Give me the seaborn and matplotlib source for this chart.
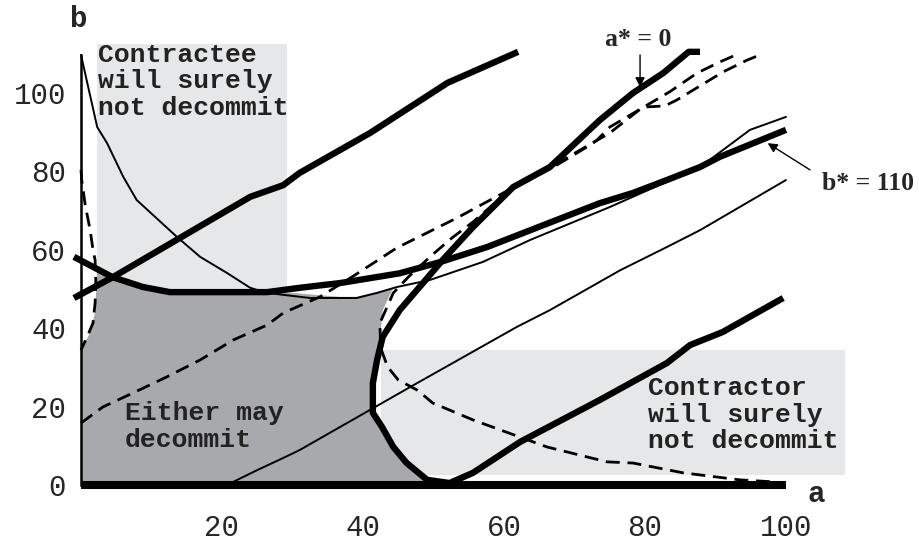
import numpy as np
import matplotlib
matplotlib.use("Agg")
import matplotlib.pyplot as plt
import seaborn as sns

# ------------------------------
# Data (a on x, b on y)
# ------------------------------
a_thick_upper = [-1, 4.5, 24, 28.7, 31, 41, 52, 62]
b_thick_upper = [47.7, 53, 73.5, 76.5, 79.6, 89.8, 102.6, 110.5]

# b* = 110 curve
a_bstar = [-1, 4.5, 8.8, 12.6, 26.4, 31, 36.7, 45.2, 51, 57.6, 73.6, 78.3, 83.1, 87.8, 90.6, 100]
b_bstar = [58.2, 53, 50.5, 49.2, 49.2, 50.3, 51.5, 54, 56.9, 60.7, 71.9, 74.5, 77.8, 81.1, 83.7, 90.6]

a_thin_upper = [0, 2.3, 3.7, 6, 7.9, 13.6, 16.9, 20.7, 24, 26.4, 32.5, 39.1, 42, 44.8, 49.5, 57, 63.7, 75, 87.8, 94.9, 100]
b_thin_upper = [109.7, 91.3, 87.2, 78.6, 72.7, 63.3, 58.2, 54.1, 50.3, 49, 47.7, 47.7, 49, 50.5, 52.3, 56.9, 62.5, 70.9, 81.1, 90.6, 93.9]

a_thin_lower = [21.6, 25, 28.7, 31, 46.7, 61.8, 66.5, 76.5, 83.1, 87.8, 100]
b_thin_lower = [0.8, 3.8, 6.9, 8.9, 25, 40.3, 44.6, 54.8, 60.7, 65, 77.8]

# a* = 0 curve
a_astar = [87.8, 86.2, 82.6, 78.3, 73.6, 66.5, 61.3, 55.6, 51.3, 48.5, 45.2, 42.8, 42, 41.4, 41.4,
           42.7, 44.3, 46.2, 49.1, 52.3, 55.6, 62.3, 73.6, 83.1, 86.4, 91, 99.6]
b_astar = [110.5, 110.5, 105.1, 100, 93.1, 81.1, 76, 65.8, 57.4, 51.5, 44.6, 37.8, 31.9, 26, 18.4,
           14.8, 9.7, 5.6, 1.3, 0.5, 3.1, 11, 21.7, 31.1, 35.7, 39, 47.7]

a_zero = [0, 100]
b_zero = [0, 0]

a_dash_low = [0, 3.1, 7.4, 12.2, 16.9, 21.6, 26.4, 28.7, 33.9, 38.9, 44.8, 53.3, 59.9, 67, 75,
              79.7, 82.8, 84.5, 91.1, 94.5, 96.3]
b_dash_low = [15.8, 19.9, 23.5, 27.6, 31.9, 37, 40.8, 43.9, 48, 53.6, 60.5, 68.1, 74.5, 81.5, 89.8,
              96.4, 96.7, 98.2, 105.4, 108.4, 109.7]

a_dash_c = [92.5, 90.6, 87.4, 83.5, 76.7, 75, 73.2, 72.2, 67, 61, 55.6, 52.6, 49.5, 46.4, 44.3, 42.4,
            42.5, 43.5, 45, 47.7, 49.9, 52.3, 55.6, 66.1, 74.6, 78.3, 85.4, 93.5, 98.2]
b_dash_c = [109.4, 107.9, 105.1, 100.3, 93.1, 91.3, 88, 86.7, 81.1, 75.5, 67.1, 63, 58.2, 53, 49, 41.3,
            35, 30.1, 26.8, 24.2, 20.9, 19.1, 16.6, 9.7, 5.9, 5.6, 3.1, 1.3, 0.8]

a_dash_left = [0, 0.1, 0.6, 1.3, 1.7, 2, 2.1, 2, 1.7, 0.8, 0]
b_dash_left = [80.4, 77.8, 71.4, 65, 60, 57.4, 52, 46.4, 41.3, 37.5, 34.4]

# shaded zones
a_either = [0, 0, 1.2, 2.0, 2.3, 4.5, 8.8, 12.6, 26.4, 30, 36.7, 39.1, 44.3, 42.8, 42.4, 41.4,
            41.2, 41.2, 42.5, 44.1, 46, 48.5, 49]
b_either = [0, 34.4, 38.5, 44, 55, 53, 50.5, 49.2, 49.2, 49, 48, 48, 50.3, 44.6, 37, 30,
            26, 18.4, 14.8, 9.7, 5.6, 1.5, 0]
contractee_a = [2.27, 29.2]
contractee_b = [40, 112.5]
contractor_a = [42.5, 108.4]
contractor_b = [2.55, 34.4]

y_ticks = [0, 20, 40, 60, 80, 100]
x_ticks = [20, 40, 60, 80, 100]

# ------------------------------
# Figure
# ------------------------------
sns.set_style("white")
plt.rcParams['font.family'] = ['Liberation Mono', 'DejaVu Sans']

fig = plt.figure(figsize=(9.19, 5.45), dpi=100)
ax = fig.add_axes([70 / 919, 53 / 545, 780 / 919, 452 / 545])
ax.set_xlim(-1.56, 109.08)
ax.set_ylim(-1.79, 113.52)

LIGHT = '#e6e7e8'
DARK = '#a7a9ac'
ax.fill_between(contractee_a, contractee_b[0], contractee_b[1], color=LIGHT, lw=0, zorder=0)
ax.fill_between(contractor_a, contractor_b[0], contractor_b[1], color=LIGHT, lw=0, zorder=0)
ax.fill(a_either, b_either, color=DARK, lw=0, zorder=1)

thick = dict(color='k', linewidth=4.6, solid_capstyle='butt', solid_joinstyle='round')
thin = dict(color='k', linewidth=1.4, solid_joinstyle='round')
dashed = dict(color='k', linewidth=2.0, linestyle=(0, (5.0, 2.8)))

curves = [
    (a_thin_upper, b_thin_upper, thin),
    (a_thin_lower, b_thin_lower, thin),
    (a_dash_low, b_dash_low, dashed),
    (a_dash_c, b_dash_c, dashed),
    (a_dash_left, b_dash_left, dashed),
    (a_thick_upper, b_thick_upper, thick),
    (a_bstar, b_bstar, thick),
    (a_astar, b_astar, thick),
]
for xs, ys, kw in curves:
    sns.lineplot(x=xs, y=ys, sort=False, estimator=None, ax=ax, zorder=3, **kw)
sns.lineplot(x=a_zero, y=b_zero, sort=False, estimator=None, ax=ax, zorder=3,
             color='k', linewidth=5.8, solid_capstyle='butt')

# axes styling
for s in ['top', 'right']:
    ax.spines[s].set_visible(False)
ax.spines['bottom'].set_position(('data', 0))
ax.spines['bottom'].set_color('none')
ax.spines['left'].set_position(('data', 0))
ax.spines['left'].set_bounds(0, 109.7)
ax.spines['left'].set_linewidth(1.8)
ax.spines['left'].set_color('k')

ax.set_yticks(y_ticks)
ax.set_yticks(np.arange(0, 110, 5), minor=True)
ax.set_xticks(x_ticks)
ax.tick_params(axis='y', which='both', direction='inout', length=4.5, width=1.5,
               color='k', pad=8.5, labelsize=21)
ax.tick_params(axis='x', length=0, pad=21, labelsize=21)
ax.grid(False)

# multi-line labels: anchored on the baseline of their last line
lbl = dict(fontsize=19, fontweight='bold', va='baseline', ha='left', linespacing=1.13,
           color='#222222', zorder=5)
ax.text(2.4, 94.4, "Contractee\nwill surely\nnot decommit", **lbl)
ax.text(6.2, 9.7, "Either may\ndecommit", **lbl)
ax.text(80.4, 9.4, "Contractor\nwill surely\nnot decommit", **lbl)

ax.text(-1.56, 116.8, "b", fontsize=21, fontweight='bold', va='baseline', ha='left')
ax.text(103, -4.3, "a", fontsize=21, fontweight='bold', va='baseline', ha='left')

serif = dict(family='Liberation Serif', fontsize=18.5, fontweight='bold', va='baseline')
ax.text(79.1, 112, "a* = 0", ha='center', **serif)
ax.text(105.1, 75.3, "b* = 110", ha='left', **serif)
arrow = dict(arrowstyle='-|>', color='k', lw=1, mutation_scale=14, shrinkA=0, shrinkB=0)
ax.annotate('', xy=(79.3, 101.5), xytext=(79.3, 109.7), arrowprops=arrow)
ax.annotate('', xy=(97.4, 87.2), xytext=(103.4, 80.4), arrowprops=arrow)

fig.savefig("out.png", dpi=100)
